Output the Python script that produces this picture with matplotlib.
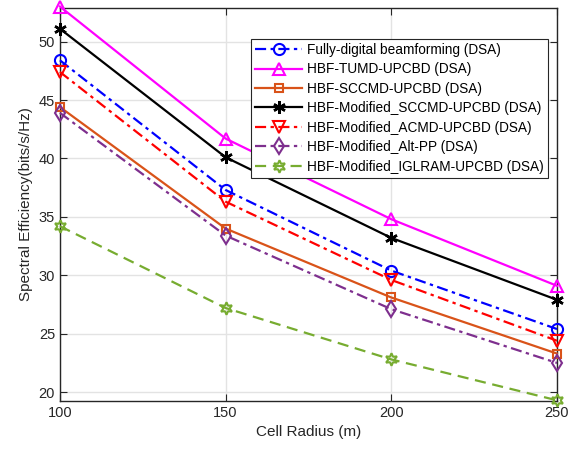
import numpy as np
import matplotlib
matplotlib.use('Agg')
import matplotlib.pyplot as plt

plt.rcParams['font.family'] = ['Liberation Sans', 'DejaVu Sans']

# 데이터
radius = [100, 150, 200, 250]
fully_digital = [48.4, 37.3, 30.4, 25.4]
tumd = [53.0, 41.7, 34.8, 29.1]
sccmd = [44.4, 34.0, 28.1, 23.3]
mod_sccmd = [51.1, 40.1, 33.2, 27.9]
mod_acmd = [47.4, 36.3, 29.6, 24.4]
mod_altpp = [43.9, 33.4, 27.1, 22.5]
mod_iglram = [34.2, 27.2, 22.8, 19.3]

labels = [
    "Fully-digital beamforming (DSA)",
    "HBF-TUMD-UPCBD (DSA)",
    "HBF-SCCMD-UPCBD (DSA)",
    "HBF-Modified_SCCMD-UPCBD (DSA)",
    "HBF-Modified_ACMD-UPCBD (DSA)",
    "HBF-Modified_Alt-PP (DSA)",
    "HBF-Modified_IGLRAM-UPCBD (DSA)",
]

dashdot = (0, (5, 2, 1.5, 2))

fig = plt.figure(figsize=(5.76, 4.53), dpi=100)
ax = fig.add_axes([0.104, 0.115, 0.863, 0.868])

common = dict(lw=1.6, mew=1.5, clip_on=False, zorder=3)
ax.plot(radius, fully_digital, color='blue', ls=dashdot,
        marker='o', ms=8, mfc='none', label=labels[0], **common)
ax.plot(radius, tumd, color='magenta', ls='-',
        marker='^', ms=9, mfc='none', label=labels[1], **common)
ax.plot(radius, sccmd, color='#D95319', ls='-',
        marker='s', ms=6, mfc='none', label=labels[2], **common)
ax.plot(radius, mod_sccmd, color='black', ls='-', lw=1.6,
        marker=(6, 2, 0), ms=9, mew=1.8, clip_on=False, zorder=3,
        label=labels[3])
ax.plot(radius, mod_acmd, color='red', ls=dashdot,
        marker='v', ms=9, mfc='none', label=labels[4], **common)
ax.plot(radius, mod_altpp, color='#7E2F8E', ls=dashdot,
        marker='d', ms=8, mfc='none', label=labels[5], **common)
ax.plot(radius, mod_iglram, color='#77AC30', ls=(0, (5, 3)),
        marker=(6, 1, 0), ms=9, mfc='none', label=labels[6], **common)

ax.set_xlim(100, 250)
ax.set_ylim(19.25, 52.9)
ax.set_xticks([100, 150, 200, 250])
ax.set_yticks([20, 25, 30, 35, 40, 45, 50])
ax.tick_params(direction='in', top=True, right=True, labelsize=10.5,
               colors='#262626', length=5)
ax.grid(True, color='#e3e3e3', lw=1.0)
ax.set_axisbelow(True)
for s in ax.spines.values():
    s.set_color('#262626')
    s.set_linewidth(1.0)

ax.set_xlabel("Cell Radius (m)", fontsize=11, color='#262626')
ax.set_ylabel("Spectral Efficiency(bits/s/Hz)", fontsize=11, color='#262626')

leg = ax.legend(loc='upper right', bbox_to_anchor=(0.982, 0.921),
                borderaxespad=0, fontsize=9.8, fancybox=False, framealpha=1,
                handlelength=3.4, labelspacing=0.4, borderpad=0.3,
                handletextpad=0.4)
leg.get_frame().set_edgecolor('#262626')
leg.get_frame().set_linewidth(0.8)
leg.set_zorder(5)

plt.savefig("out.png", dpi=100)
plt.close(fig)
